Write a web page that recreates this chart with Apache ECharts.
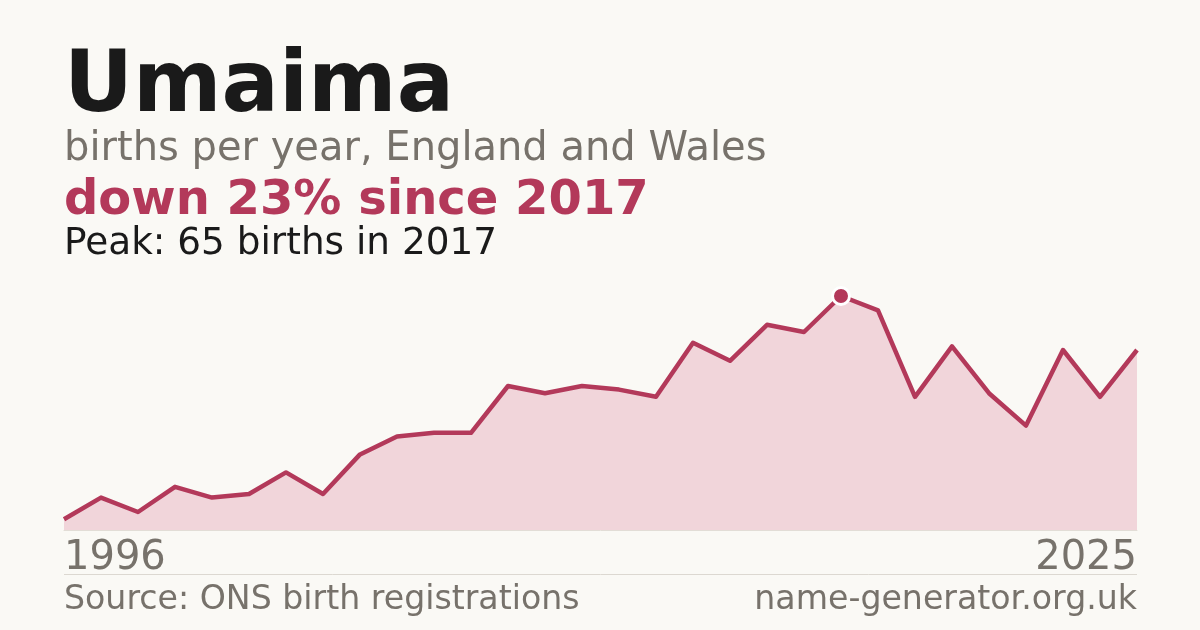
<!DOCTYPE html>
<html>
<head>
<meta charset="utf-8">
<script src="https://cdn.jsdelivr.net/npm/echarts@6/dist/echarts.min.js"></script>
<style>
  html, body { margin: 0; padding: 0; background: #faf9f5; }
  #chart { width: 1200px; height: 630px; }
</style>
</head>
<body>
<div id="chart"></div>
<script>
// births per year for the name
var years = ['1996','1997','1998','1999','2000','2001','2002','2003','2004','2005',
             '2006','2007','2008','2009','2010','2011','2012','2013','2014','2015',
             '2016','2017','2018','2019','2020','2021','2022','2023','2024','2025'];
var births = [3, 9, 5, 12, 9, 10, 16, 10, 21, 26,
              27, 27, 40, 38, 40, 39, 37, 52, 47, 57,
              55, 65, 61, 37, 51, 38, 29, 50, 37, 50];

var titleText = 'Umaima';
var subText = 'births per year, England and Wales';
var changeText = 'down 23% since 2017';
var peakText = 'Peak: 65 births in 2017';
var sourceText = 'Source: ONS birth registrations';
var siteText = 'name-generator.org.uk';

var red = '#b3395a';
var grey = '#77726b';
var font = 'DejaVu Sans';

var dom = document.getElementById('chart');
var myChart = echarts.init(dom);
var option = {
  backgroundColor: '#faf9f5',
  animation: false,
  grid: { left: 64, right: 63, top: 296, bottom: 100 },
  xAxis: {
    type: 'category',
    data: years,
    boundaryGap: false,
    axisLine: { show: true, lineStyle: { color: '#e2ddd6', width: 1 } },
    axisTick: { show: false },
    splitLine: { show: false },
    axisLabel: {
      interval: 0,
      formatter: function (v, i) {
        return (i === 0 || i === years.length - 1) ? v : '';
      },
      alignMinLabel: 'left',
      alignMaxLabel: 'right',
      color: grey,
      fontFamily: font,
      fontSize: 40,
      margin: 9
    }
  },
  yAxis: {
    type: 'value',
    min: 0,
    max: 65,
    show: false
  },
  graphic: [
    { type: 'text', left: 64, top: 46,
      style: { text: titleText, fill: '#1a1a1a', font: 'bold 85px "DejaVu Sans"' } },
    { type: 'text', left: 64, top: 130,
      style: { text: subText, fill: grey, font: '40px "DejaVu Sans"' } },
    { type: 'text', left: 64, top: 178,
      style: { text: changeText, fill: red, font: 'bold 48px "DejaVu Sans"' } },
    { type: 'text', left: 64, top: 226,
      style: { text: peakText, fill: '#1a1a1a', font: '37.4px "DejaVu Sans"' } },
    { type: 'line', shape: { x1: 64, y1: 574.5, x2: 1137, y2: 574.5 },
      style: { stroke: '#dcd8d1', lineWidth: 1 } },
    { type: 'text', left: 64, top: 584,
      style: { text: sourceText, fill: grey, font: '33.2px "DejaVu Sans"' } },
    { type: 'text', right: 63, top: 584,
      style: { text: siteText, fill: grey, font: '33.2px "DejaVu Sans"' } }
  ],
  series: [
    {
      type: 'line',
      data: births,
      showSymbol: false,
      lineStyle: { color: red, width: 4.5, join: 'round' },
      areaStyle: { color: '#f1d5da', opacity: 1 },
      markPoint: {
        data: [{ type: 'max' }],
        symbol: 'circle',
        symbolSize: 17,
        itemStyle: { color: red, borderColor: '#ffffff', borderWidth: 3 },
        label: { show: false }
      }
    }
  ]
};
if (option && typeof option === "object") {
  myChart.setOption(option, true);
}
</script>
</body>
</html>
